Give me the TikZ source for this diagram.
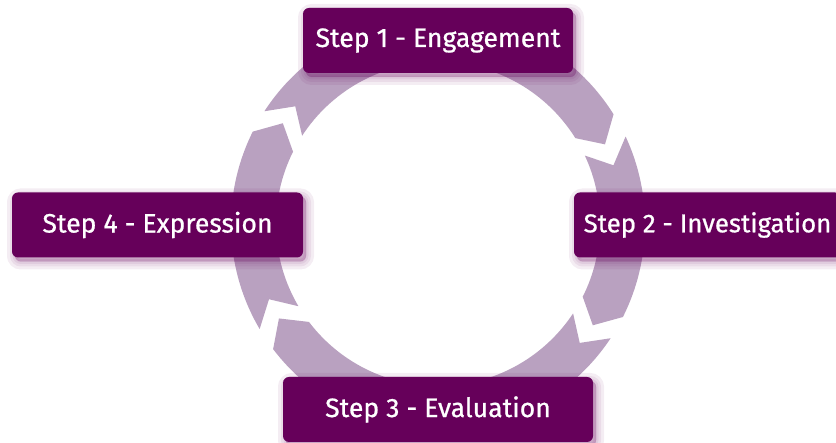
\documentclass[tikz,border=0pt]{standalone}
\usepackage{fontspec}
\setmainfont{Fira Sans}
\newfontfamily\boxfont{Fira Sans}[FakeBold=0.8]
\definecolor{ringc}{RGB}{185,161,192}
\definecolor{boxc}{RGB}{102,0,90}
\newcommand\ringseg[2]{%
  \fill[seg] (#1:207) arc[start angle=#1, end angle=#2, radius=207]
    -- ({#2-6.5}:185) -- (#2:162)
    arc[start angle=#2, end angle=#1, radius=162]
    -- ({#1-6.5}:185) -- cycle;}
\begin{document}
\begin{tikzpicture}[x=1pt,y=1pt,
  seg/.style={fill=ringc},
  shadowlayer/.style={preaction={draw=boxc, fill=boxc, opacity=0.07, line width=#1,
      transform canvas={shift={(3pt,-4pt)}}}},
  stepbox/.style={fill=boxc, rounded corners=6pt, minimum height=65pt,
    inner sep=0pt, text=white, font=\boxfont\fontsize{26.6}{31}\selectfont,
    shadowlayer=16pt, shadowlayer=10pt, shadowlayer=5pt, shadowlayer=1pt}]
\useasboundingbox (0,0) rectangle (836,443);
\clip (0,0) rectangle (836,443);
\begin{scope}[shift={(438,219)}]
  \ringseg{147}{32}
  \ringseg{25}{-26.7}
  \ringseg{-33.5}{-142.8}
  \ringseg{-149.5}{-206.5}
\end{scope}
\node[stepbox, minimum width=270pt] (s1) at (438,402.5) {Step 1 - Engagement};
\node[stepbox, minimum width=267pt, font=\boxfont\fontsize{25.8}{30}\selectfont] (s2) at (707.5,218) {Step 2 - Investigation};
\node[stepbox, minimum width=310pt] (s3) at (438,33.5) {Step 3 - Evaluation};
\node[stepbox, minimum width=291pt] (s4) at (157.5,218) {Step 4 - Expression};
\end{tikzpicture}
\end{document}
